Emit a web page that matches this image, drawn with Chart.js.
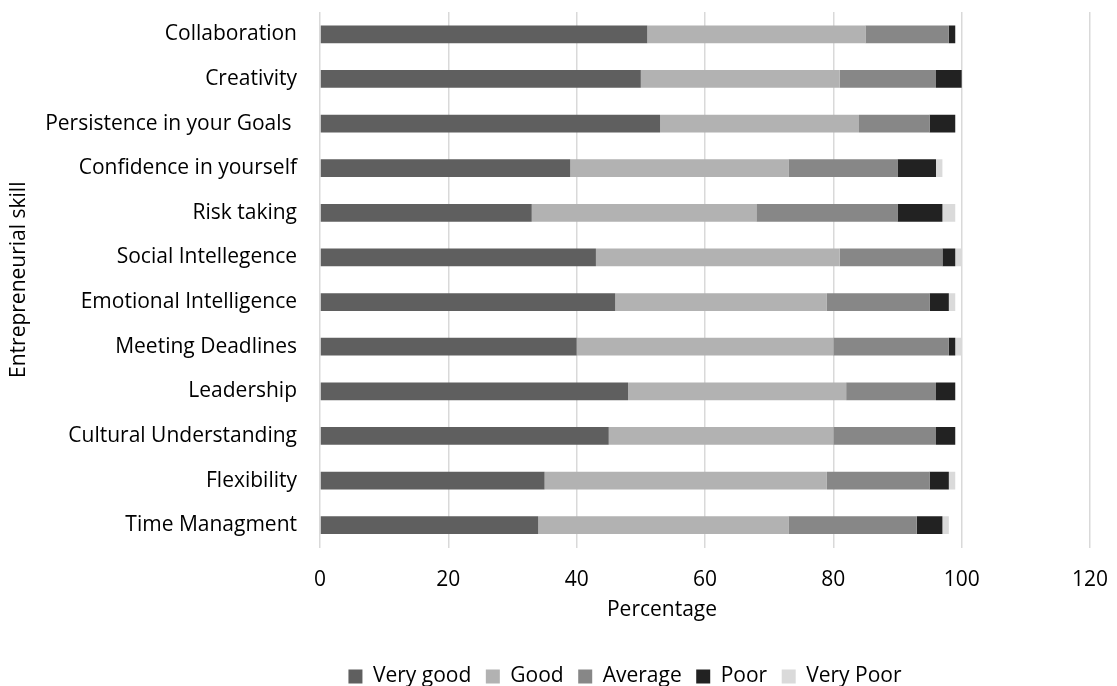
<!DOCTYPE html>
<html>
<head>
<meta charset="utf-8">
<script src="https://cdn.jsdelivr.net/npm/chart.js@4/dist/chart.umd.min.js"></script>
<style>
  html, body { margin: 0; padding: 0; background: #fff; }
  #wrap { width: 1117px; height: 686px; position: relative; }
</style>
</head>
<body>
<div id="wrap"><canvas id="chart"></canvas></div>
<script>
'use strict';

/* ---- data ---- */
const skills = ['Collaboration', 'Creativity', 'Persistence in your Goals ', 'Confidence in yourself',
  'Risk taking', 'Social Intellegence', 'Emotional Intelligence', 'Meeting Deadlines',
  'Leadership', 'Cultural Understanding', 'Flexibility', 'Time Managment'];
const veryGood = [51, 50, 53, 39, 33, 43, 46, 40, 48, 45, 35, 34];
const good     = [34, 31, 31, 34, 35, 38, 33, 40, 34, 35, 44, 39];
const average  = [13, 15, 11, 17, 22, 16, 16, 18, 14, 16, 16, 20];
const poor     = [1, 4, 4, 6, 7, 2, 3, 1, 3, 3, 3, 4];
const veryPoor = [0, 0, 0, 1, 2, 1, 1, 1, 0, 0, 1, 1];
const xTicks = [0, 20, 40, 60, 80, 100, 120];

const FONT = "'Open Sans', sans-serif";
const FS = 21;
const TXT = '#000';

function ds(label, data, color) {
  return { label, data, backgroundColor: color, borderWidth: 0, barPercentage: 0.8, categoryPercentage: 0.5 };
}

// nudge legend and x title to where the original (Excel) put them
const nudge = {
  id: 'nudge',
  afterLayout(chart) {
    const lg = chart.legend;
    lg.left += 80; lg.right += 80;
    lg.top += 26; lg.bottom += 26;
    const sx = chart.scales.x;
    if (!sx._nudged) {
      const orig = sx.drawTitle;
      sx.drawTitle = function () {
        const l = this.left, r = this.right;
        this.left -= 43; this.right -= 43;
        orig.call(this);
        this.left = l; this.right = r;
      };
      sx._nudged = true;
    }
  }
};

new Chart(document.getElementById('chart'), {
  type: 'bar',
  data: {
    labels: skills,
    datasets: [
      ds('Very good', veryGood, '#5f5f5f'),
      ds('Good', good, '#b2b2b2'),
      ds('Average', average, '#878787'),
      ds('Poor', poor, '#222222'),
      ds('Very Poor', veryPoor, '#dadada')
    ]
  },
  plugins: [nudge],
  options: {
    indexAxis: 'y',
    responsive: true,
    maintainAspectRatio: false,
    animation: false,
    layout: { padding: { top: 12, right: 27, bottom: 15, left: 0 } },
    plugins: {
      tooltip: { enabled: false },
      legend: {
        position: 'bottom',
        labels: {
          boxWidth: 14, boxHeight: 14, padding: 14.5,
          color: TXT, font: { family: FONT, size: FS }
        }
      }
    },
    scales: {
      x: {
        stacked: true,
        min: 0, max: 120,
        afterBuildTicks: s => { s.ticks = xTicks.map(v => ({ value: v })); },
        afterFit: s => { s.height = 78; s.paddingLeft = 0; s.paddingRight = 0; },
        grid: { color: '#d9d9d9', lineWidth: 1.5, drawTicks: false },
        border: { display: false },
        ticks: { color: TXT, padding: 20, font: { family: FONT, size: FS } },
        title: { display: true, text: 'Percentage', color: TXT, padding: { top: 0, bottom: 3 }, font: { family: FONT, size: FS } }
      },
      y: {
        stacked: true,
        afterFit: s => { s.width = 320; s.paddingTop = 0; s.paddingBottom = 0; },
        grid: { display: false, drawTicks: false },
        border: { display: false },
        ticks: { color: TXT, padding: 23, font: { family: FONT, size: FS } },
        title: { display: true, text: 'Entrepreneurial skill', color: TXT, padding: { top: 6, bottom: 0 }, font: { family: FONT, size: FS } }
      }
    }
  }
});
</script>
</body>
</html>
